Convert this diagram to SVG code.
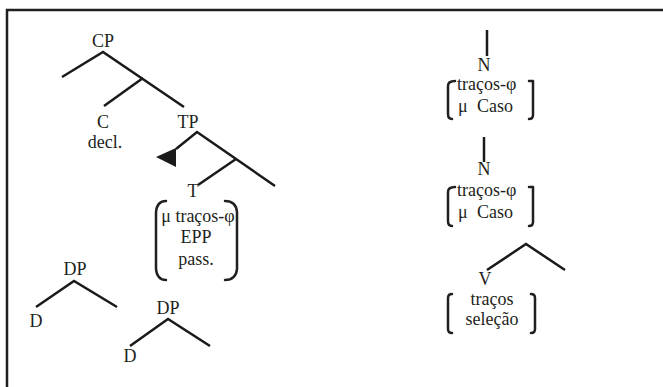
<svg xmlns="http://www.w3.org/2000/svg" width="663" height="387" viewBox="0 0 663 387">
  <style>
    .t { font-family: "Liberation Serif", "Times New Roman", serif; font-size: 18px; fill: #231f20; text-anchor: middle; }
    .tl { font-family: "Liberation Serif", "Times New Roman", serif; font-size: 18px; fill: #231f20; }
    .br { fill: none; stroke: #231f20; stroke-width: 2.5; stroke-linecap: round; stroke-linejoin: round; }
    .edge { fill: none; stroke: #1a1a1a; stroke-width: 2.5; stroke-linecap: butt; }
  </style>
  <rect width="663" height="387" fill="#ffffff"/>
  <!-- frame (right and bottom edges fall outside the canvas) -->
  <rect x="7" y="10" width="700" height="420" fill="none" stroke="#231f20" stroke-width="2.5"/>

  <!-- tree branches -->
  <g id="connectors">
    <!-- CP -->
    <path class="edge" d="M62,77 L103,52 L184,107"/>
    <path class="edge" d="M143,78 L104,106"/>
    <!-- TP -->
    <path class="edge" d="M176,149 L197,132 L275,186"/>
    <path class="edge" d="M236,159 L198,185"/>
    <polygon points="156,157 176,148 176,167" fill="#1a1a1a"/>
    <!-- DP trees -->
    <path class="edge" d="M36,307 L74,281 L117,307"/>
    <path class="edge" d="M130,346 L168,319 L210,346"/>
    <!-- right column -->
    <path class="edge" d="M487,30 L487,56"/>
    <path class="edge" d="M484,137 L484,162"/>
    <path class="edge" d="M487,270 L526,244 L565,270"/>
  </g>

  <g id="cp"><text class="t" x="103" y="47">CP</text></g>
  <g id="c"><text class="t" x="103" y="128">C</text><text class="t" x="105" y="148">decl.</text></g>
  <g id="tp"><text class="t" x="188" y="128">TP</text></g>
  <g id="t">
    <text class="t" x="193" y="197">T</text>
    <path class="br" d="M166,201 Q157,201 156,212 L156,269 Q157,280 166,280"/>
    <path class="br" d="M225,201 Q236,201 237,212 L237,269 Q236,280 225,280"/>
    <text class="t" x="198" y="222">μ traços-φ</text>
    <text class="t" x="196" y="243">EPP</text>
    <text class="t" x="196" y="265">pass.</text>
  </g>
  <g id="dp1"><text class="t" x="75" y="275">DP</text><text class="t" x="36" y="327">D</text></g>
  <g id="dp2"><text class="t" x="168" y="314">DP</text><text class="t" x="130" y="362">D</text></g>

  <g id="n1">
    <text class="t" x="484" y="71">N</text>
    <path class="br" d="M455,81 Q448,81 448,86 L448,114 Q448,119 452,119"/>
    <path class="br" d="M529,81 L533,81 L533,115 Q533,119 529,119"/>
    <text class="tl" x="457" y="90">traços-φ</text>
    <text class="tl" x="458" y="112">μ</text>
    <text class="tl" x="477" y="112">Caso</text>
  </g>
  <g id="n2">
    <text class="t" x="484" y="175">N</text>
    <path class="br" d="M455,187 Q448,187 448,192 L448,221 Q448,226 452,226"/>
    <path class="br" d="M529,187 L533,187 L533,222 Q533,226 529,226"/>
    <text class="tl" x="457" y="196">traços-φ</text>
    <text class="tl" x="458" y="218">μ</text>
    <text class="tl" x="477" y="218">Caso</text>
  </g>
  <g id="v">
    <text class="t" x="485" y="285">V</text>
    <path class="br" d="M452,294 Q448,294 448,298 L448,329 Q448,333 452,333"/>
    <path class="br" d="M531,294 Q535,294 535,298 L535,329 Q535,333 531,333"/>
    <text class="t" x="492" y="305">traços</text>
    <text class="t" x="492" y="325">seleção</text>
  </g>
</svg>
